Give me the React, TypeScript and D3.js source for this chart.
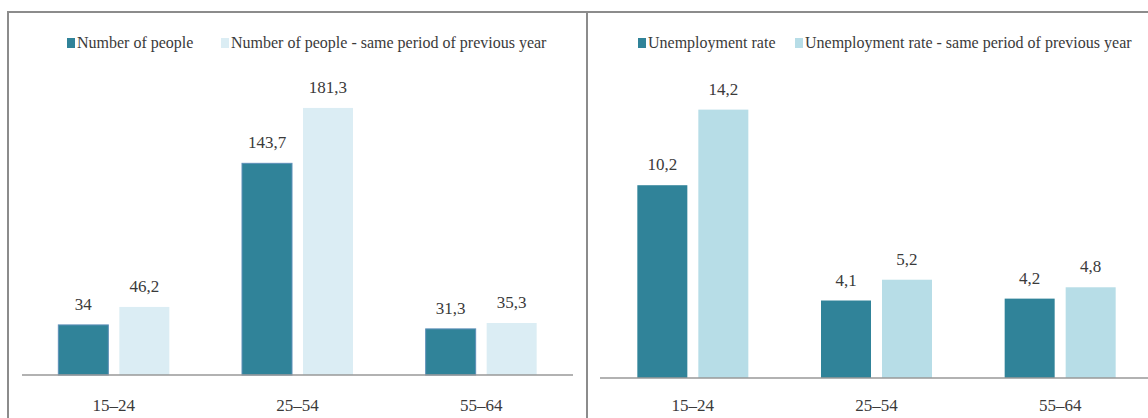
import React from "react";
import * as d3 from "d3";

const categories = ["15–24", "25–54", "55–64"];
const peopleNow = [34, 143.7, 31.3];
const peoplePrev = [46.2, 181.3, 35.3];
const rateNow = [10.2, 4.1, 4.2];
const ratePrev = [14.2, 5.2, 4.8];
const leftLegend = ["Number of people", "Number of people - same period of previous year"];
const rightLegend = ["Unemployment rate", "Unemployment rate - same period of previous year"];

const W = 1148;
const H = 418;
const DARK = "#308399";
const LIGHT_L = "#DBEDF4";
const LIGHT_R = "#B7DDE7";
const TEXT = "#3a3a3a";
const FONT = "Liberation Serif";
const fmt = (v: number) => String(v).replace(".", ",");

type PanelProps = {
  x0: number; x1: number; baseY: number; yMax: number; yTop: number;
  now: number[]; prev: number[]; light: string; legend: string[];
  legendX: number[]; darkStroke?: string; lineX0: number; lineX1: number;
};

function Panel(p: PanelProps) {
  const x = d3.scaleBand<string>().domain(categories).range([p.x0, p.x1]).padding(0);
  const inner = d3.scaleBand<string>().domain(["now", "prev"]).range([-55.5, 55.5]).paddingInner(0.1803).paddingOuter(0);
  const y = d3.scaleLinear().domain([0, p.yMax]).range([p.baseY, p.yTop]);
  const series = [
    { key: "now", vals: p.now, fill: DARK, stroke: p.darkStroke },
    { key: "prev", vals: p.prev, fill: p.light, stroke: undefined as string | undefined },
  ];
  return (
    <g>
      {series.map((s) =>
        s.vals.map((v, i) => {
          const cx = (x(categories[i]) as number) + x.bandwidth() / 2;
          const bx = cx + (inner(s.key) as number);
          const top = y(v);
          return (
            <g key={s.key + i}>
              <rect x={bx} y={top} width={inner.bandwidth()} height={p.baseY - top} fill={s.fill}
                stroke={s.stroke || "none"} strokeWidth={s.stroke ? 1 : 0} />
              <text x={bx + inner.bandwidth() / 2} y={top - 15} textAnchor="middle" fill={TEXT} fontFamily={FONT} fontSize={17}>
                {fmt(v)}
              </text>
            </g>
          );
        })
      )}
      <line x1={p.lineX0} x2={p.lineX1} y1={p.baseY} y2={p.baseY} stroke="#999" strokeWidth={1.5} />
      {categories.map((c) => (
        <text key={c} x={(x(c) as number) + x.bandwidth() / 2} y={411} textAnchor="middle" fill={TEXT} fontFamily={FONT} fontSize={17}>
          {c}
        </text>
      ))}
      {p.legend.map((t, i) => (
        <g key={t}>
          <rect x={p.legendX[i]} y={38} width={8} height={10} fill={i === 0 ? DARK : p.light} />
          <text x={p.legendX[i] + 10} y={48} fill={TEXT} fontFamily={FONT} fontSize={16}>{t}</text>
        </g>
      ))}
    </g>
  );
}

export default function App() {
  return (
    <div style={{ fontFamily: "Liberation Serif" }}>
      <svg width={W} height={H} fontFamily={FONT}
        style={{ position: "absolute", left: 0, top: 0, background: "#fff", fontFamily: "Liberation Serif" }}>
        <style>{`text { font-family: "Liberation Serif", "Times New Roman", serif !important; }`}</style>
        <rect x={0} y={0} width={W} height={H} fill="#fff" />
        <Panel x0={22} x1={573} baseY={375} yMax={200} yTop={375 - 200 * 1.473}
          now={peopleNow} prev={peoplePrev} light={LIGHT_L} legend={leftLegend}
          legendX={[67, 221]} darkStroke="#5d8fb8" lineX0={22} lineX1={573} />
        <Panel x0={601} x1={1152} baseY={378} yMax={16} yTop={378 - 16 * 18.9}
          now={rateNow} prev={ratePrev} light={LIGHT_R} legend={rightLegend}
          legendX={[638, 795]} lineX0={600} lineX1={1148} />
        <line x1={7} x2={W} y1={12} y2={12} stroke="#8c8c8c" strokeWidth={2} />
        <line x1={8} x2={8} y1={12} y2={H} stroke="#8c8c8c" strokeWidth={2} />
        <line x1={587} x2={587} y1={12} y2={H} stroke="#8c8c8c" strokeWidth={2} />
      </svg>
    </div>
  );
}
